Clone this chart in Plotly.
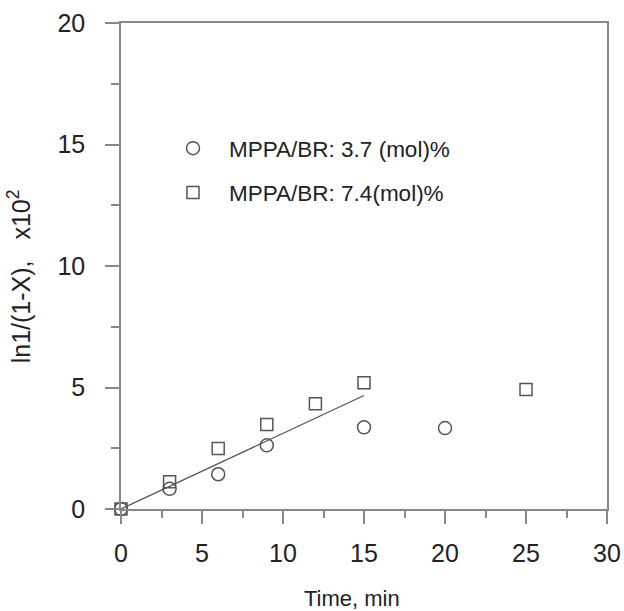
import plotly.graph_objects as go

# Data
t_37 = [0, 3, 6, 9, 15, 20]
y_37 = [0, 0.83, 1.43, 2.62, 3.36, 3.33]
t_74 = [0, 3, 6, 9, 12, 15, 25]
y_74 = [0, 1.12, 2.49, 3.48, 4.33, 5.2, 4.92]
fit_t = [0, 15]
fit_y = [0, 4.67]

label_37 = "MPPA/BR: 3.7 (mol)%"
label_74 = "MPPA/BR: 7.4(mol)%"

gray = "#555555"
font_family = "Liberation Sans, Arial, sans-serif"
nb = "&nbsp;"

fig = go.Figure()
fig.add_trace(go.Scatter(
    x=t_37, y=y_37, mode="markers", name=label_37, legendgroup="a",
    marker=dict(symbol="circle-open", size=13, color=gray, line=dict(width=1.5, color=gray)),
    cliponaxis=False))
fig.add_trace(go.Scatter(
    x=t_74, y=y_74, mode="markers", name=label_74, legendgroup="b",
    marker=dict(symbol="square-open", size=12, color=gray, line=dict(width=1.5, color=gray)),
    cliponaxis=False))
fig.add_trace(go.Scatter(
    x=fit_t, y=fit_y, mode="lines", showlegend=False,
    line=dict(color=gray, width=1.3)))

axis_common = dict(
    showgrid=False, zeroline=False, showline=True, linecolor="#888888", linewidth=1.5,
    mirror=True, ticks="outside", tickcolor="#888888", tickwidth=1.5, automargin=False,
    tickfont=dict(size=25, color="#222222", family=font_family),
)

fig.update_layout(
    width=624, height=611,
    margin=dict(l=121, r=17, t=23, b=102),
    paper_bgcolor="white", plot_bgcolor="white",
    font=dict(family=font_family, color="#222222"),
    xaxis=dict(range=[0, 30], dtick=5, tick0=0, ticklen=13, ticklabelstandoff=8,
               minor=dict(dtick=2.5, ticklen=7, ticks="outside", tickcolor="#888888", tickwidth=1.5),
               title=dict(text="Time, min" + nb * 4, font=dict(size=22), standoff=26),
               **axis_common),
    yaxis=dict(range=[0, 20], dtick=5, tick0=0, ticklen=14, ticklabelstandoff=15,
               minor=dict(dtick=2.5, ticklen=8, ticks="outside", tickcolor="#888888", tickwidth=1.5),
               title=dict(text="ln1/(1-X)," + nb * 3 + "x10<sup>2</sup>" + nb * 3,
                          font=dict(size=25), standoff=20),
               **axis_common),
    legend=dict(x=(157 - 121) / 486, y=1 - (127 - 23) / 486, xanchor="left", yanchor="top",
                bgcolor="rgba(0,0,0,0)", font=dict(size=22.5, color="#222222"),
                tracegroupgap=12, itemwidth=62),
    showlegend=True,
)

fig.write_html("out.html")
